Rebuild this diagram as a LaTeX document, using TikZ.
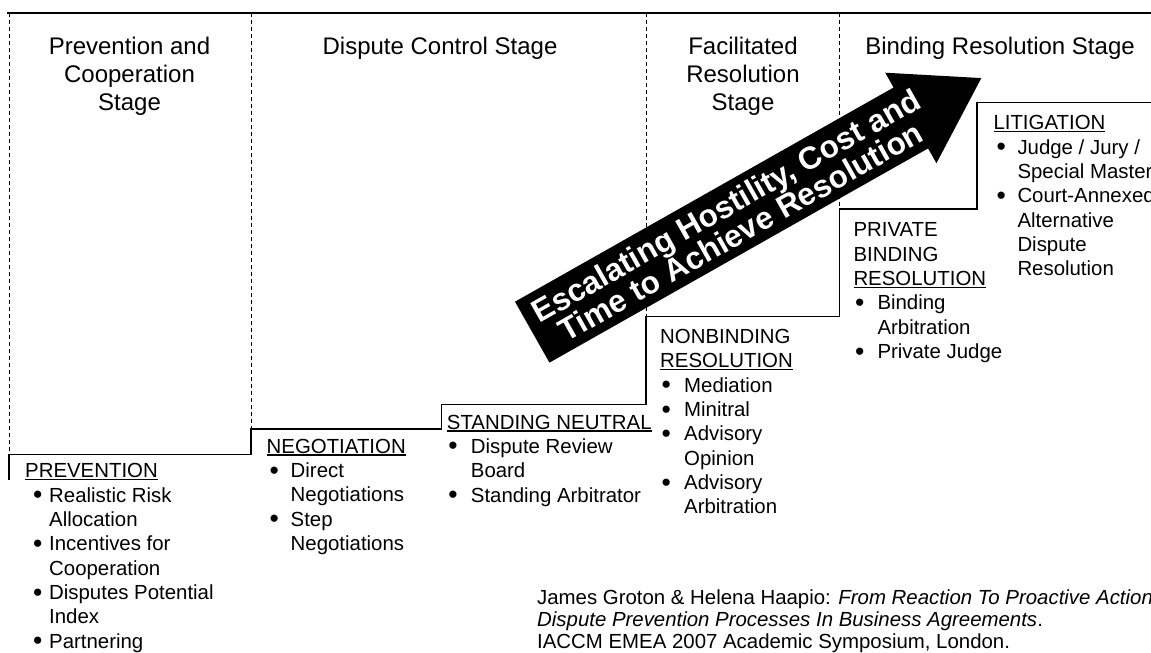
\documentclass[tikz,border=0pt]{standalone}
\usepackage{fontspec}
\usepackage{graphicx}
\setmainfont{Liberation Sans}
\newcommand\ulx[1]{\setbox0\hbox{#1}\rlap{\rule[-2.6pt]{\wd0}{1.4pt}}\box0}
\newcommand\bl[1]{\makebox[24pt][l]{\hspace*{#1}\raisebox{-1.6pt}{\scalebox{1.3}{\textbullet}}}}
\newcommand\ct{\hspace*{24pt}}
\newcommand\fst{\rule{0pt}{17pt}}
\begin{document}
\begin{tikzpicture}[x=1pt,y=-1pt,
  stair/.style={line width=1.6pt,black},
  divider/.style={line width=0.8pt,dash pattern=on 4pt off 3pt},
  stage/.style={font=\fontsize{24}{28}\selectfont,align=center,inner sep=0pt,anchor=north},
  blk/.style={font=\fontsize{20.4}{24.35}\selectfont,align=left,inner sep=0pt,anchor=north west},
  cite/.style={font=\fontsize{20.4}{22}\selectfont,align=left,inner sep=0pt,anchor=north west},
  arrowtext/.style={font=\fontsize{31.5}{30}\selectfont\bfseries,text=white,align=center,inner sep=0pt}]
\useasboundingbox (0,0) rectangle (1151,653);
% top rule
\coordinate (t0) at (7,13.3);
\coordinate (t1) at (1152,13.3);
\draw[line width=1.8pt] (t0) -- (t1);
% staircase
\coordinate (s0) at (9,480);
\coordinate (s1) at (9,454.3);
\coordinate (s2) at (251,454.3);
\coordinate (s3) at (251,429);
\coordinate (s4) at (441.5,429);
\coordinate (s5) at (441.5,404.3);
\coordinate (s6) at (646,404.3);
\coordinate (s7) at (646,316.5);
\coordinate (s8) at (839.5,316.5);
\coordinate (s9) at (839.5,209);
\coordinate (s10) at (977,209);
\coordinate (s11) at (977,102.3);
\coordinate (s12) at (1152,102.3);
\draw[stair] (s0) -- (s1) -- (s2) -- (s3) -- (s4) -- (s5) -- (s6) -- (s7) -- (s8) -- (s9) -- (s10) -- (s11) -- (s12);
% dashed dividers
\coordinate (d1) at (9,13.3);
\coordinate (d2) at (251,13.3);
\coordinate (d3) at (646,13.3);
\coordinate (d4) at (839.5,13.3);
\draw[divider] (d1) -- (s1);
\draw[divider] (d2) -- (s3);
\draw[divider] (d3) -- (s7);
\draw[divider] (d4) -- (s9);
% stage headings
\node[stage] (h1) at (129.5,34.5) {\rule{0pt}{20pt}Prevention and\\Cooperation\\Stage};
\node[stage] (h2) at (440,34.5) {\rule{0pt}{20pt}Dispute Control Stage};
\node[stage] (h3) at (743,34.5) {\rule{0pt}{20pt}Facilitated\\Resolution\\Stage};
\node[stage] (h4) at (1000,34.5) {\rule{0pt}{20pt}Binding Resolution Stage};
% arrow
\begin{scope}[shift={(515,301.7)},rotate=29.5]
  \fill[black] (0,0) -- (435,0) -- (435,-17) -- (516,35) -- (435,87) -- (435,70) -- (0,70) -- cycle;
  \node[arrowtext,transform shape] (arr) at (231,35) {Escalating Hostility, Cost and\\Time to Achieve Resolution};
\end{scope}
% blocks
\node[blk] (prev) at (25,460.5) {\fst\ulx{PREVENTION}\\
\bl{8pt}Realistic Risk\\
\ct Allocation\\
\bl{8pt}Incentives for\\
\ct Cooperation\\
\bl{8pt}Disputes Potential\\
\ct Index\\
\bl{8pt}Partnering};
\node[blk] (nego) at (266.5,436) {\fst\ulx{NEGOTIATION}\\
\bl{3pt}Direct\\
\ct Negotiations\\
\bl{3pt}Step\\
\ct Negotiations};
\node[blk] (stand) at (446.7,411.8) {\fst\ulx{STANDING NEUTRAL}\\
\bl{1.5pt}Dispute Review\\
\ct Board\\
\bl{1.5pt}Standing Arbitrator};
\node[blk] (nonb) at (660,326.3) {\fst NONBINDING\\
\ulx{RESOLUTION}\\
\bl{1.5pt}Mediation\\
\bl{1.5pt}Minitral\\
\bl{1.5pt}Advisory\\
\ct Opinion\\
\bl{1.5pt}Advisory\\
\ct Arbitration};
\node[blk] (priv) at (853.3,219.7) {\fst PRIVATE\\
BINDING\\
\ulx{RESOLUTION}\\
\bl{1.5pt}Binding\\
\ct Arbitration\\
\bl{1.5pt}Private Judge};
\node[blk] (liti) at (993.3,112.5) {\fst\ulx{LITIGATION}\\
\bl{3pt}Judge / Jury /\\
\ct Special Master\\
\bl{3pt}Court-Annexed\\
\ct Alternative\\
\ct Dispute\\
\ct Resolution};
% citation
\node[cite] (cit) at (537,587) {\fst James Groton \& Helena Haapio: \textit{From Reaction To Proactive Action}\\
\textit{Dispute Prevention Processes In Business Agreements}.\\
IACCM EMEA 2007 Academic Symposium, London.};
\end{tikzpicture}
\end{document}
